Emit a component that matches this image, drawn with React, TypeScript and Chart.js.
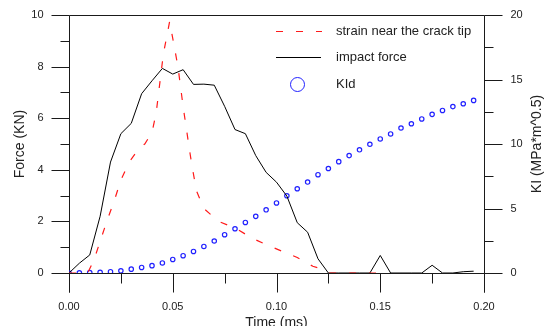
import React, { useEffect, useRef } from 'react';
import { Chart, registerables } from 'chart.js';

Chart.register(...registerables);

// ---- data ----
const forceTime = [0, 0.005, 0.01, 0.015, 0.02, 0.025, 0.03, 0.035, 0.04, 0.045, 0.05, 0.055, 0.06, 0.065, 0.07, 0.075, 0.08, 0.085, 0.09, 0.095, 0.1, 0.105, 0.11, 0.115, 0.12, 0.125, 0.13, 0.135, 0.14, 0.145, 0.15, 0.155, 0.16, 0.165, 0.17, 0.175, 0.18, 0.185, 0.19, 0.195];
const forceValue = [0, 0.38, 0.7, 2.2, 4.3, 5.4, 5.8, 6.95, 7.45, 7.93, 7.71, 7.88, 7.31, 7.32, 7.28, 6.46, 5.56, 5.4, 4.55, 3.9, 3.52, 2.98, 1.95, 1.58, 0.55, 0, 0, 0, 0, 0, 0.68, 0, 0, 0, 0, 0.3, 0, 0, 0.05, 0.07];

const strainTime = [0, 0.009, 0.012, 0.018, 0.022, 0.025, 0.029, 0.034, 0.0365, 0.04, 0.042, 0.0455, 0.0485, 0.0525, 0.055, 0.0583, 0.0596, 0.0615, 0.065, 0.072, 0.08, 0.088, 0.095, 0.1025, 0.11, 0.1175, 0.12, 0.125, 0.15];
const strainValue = [0, 0, 0.5, 1.95, 2.85, 3.6, 4.3, 4.85, 5.0, 5.45, 6.2, 8.5, 9.75, 8.0, 6.45, 4.65, 4.0, 3.17, 2.5, 2.0, 1.75, 1.36, 1.1, 0.85, 0.6, 0.26, 0.2, 0, 0];

const kidTime = [0, 0.005, 0.01, 0.015, 0.02, 0.025, 0.03, 0.035, 0.04, 0.045, 0.05, 0.055, 0.06, 0.065, 0.07, 0.075, 0.08, 0.085, 0.09, 0.095, 0.1, 0.105, 0.11, 0.115, 0.12, 0.125, 0.13, 0.135, 0.14, 0.145, 0.15, 0.155, 0.16, 0.165, 0.17, 0.175, 0.18, 0.185, 0.19, 0.195];
const kidValue = [0, 0.02, 0.03, 0.05, 0.1, 0.17, 0.3, 0.43, 0.57, 0.78, 1.05, 1.34, 1.67, 2.06, 2.48, 2.97, 3.43, 3.92, 4.39, 4.9, 5.43, 5.99, 6.53, 7.05, 7.62, 8.1, 8.63, 9.1, 9.55, 9.98, 10.39, 10.78, 11.24, 11.57, 11.94, 12.3, 12.6, 12.9, 13.12, 13.38];

const xMajorTicks = [0, 0.05, 0.1, 0.15, 0.2];
const xTickLabels = ['0.00', '0.05', '0.10', '0.15', '0.20'];
const xMinorTicks = [0.025, 0.075, 0.125, 0.175];
const yMajorTicks = [0, 2, 4, 6, 8, 10];
const yMinorTicks = [1, 3, 5, 7, 9];
const y2MajorTicks = [0, 5, 10, 15, 20];
const y2MinorTicks = [2.5, 7.5, 12.5, 17.5];

const legendLabels = ['strain near the crack tip', 'impact force', 'KId'];
const xTitle = 'Time (ms)';
const yTitle = 'Force (KN)';
const y2Title = 'KI (MPa*m^0.5)';

const FONT = '"Liberation Sans", Arial, sans-serif';
const AXIS_COLOR = '#1a1a1a';
const TEXT_COLOR = '#222';
const RED = '#ff1a1a';
const BLUE = '#2020ff';

const toXY = (xs: number[], ys: number[]) => xs.map((x, i) => ({ x, y: ys[i] }));

const axesPlugin = {
  id: 'customAxes',
  beforeDatasetsDraw(chart: any) {
    const { ctx, chartArea: a, scales } = chart;
    const sx = scales.x, sy = scales.y, sy2 = scales.y2;
    const L = Math.round(a.left) + 0.5;
    const R = Math.round(a.right) + 0.5;
    const T = Math.round(a.top) + 0.5;
    const B = Math.round(a.bottom) + 0.5;
    const major = 18, minor = 9, down = 19;
    ctx.save();
    ctx.strokeStyle = AXIS_COLOR;
    ctx.lineWidth = 1;
    ctx.setLineDash([]);
    ctx.beginPath();
    ctx.moveTo(L, T); ctx.lineTo(R, T);
    ctx.moveTo(L, B); ctx.lineTo(R, B);
    ctx.moveTo(L, T); ctx.lineTo(L, B + down);
    ctx.moveTo(R, T); ctx.lineTo(R, B + down);
    yMajorTicks.forEach((v) => { const p = Math.round(sy.getPixelForValue(v)) + 0.5; ctx.moveTo(L - major, p); ctx.lineTo(L, p); });
    yMinorTicks.forEach((v) => { const p = Math.round(sy.getPixelForValue(v)) + 0.5; ctx.moveTo(L - minor, p); ctx.lineTo(L, p); });
    y2MajorTicks.forEach((v) => { const p = Math.round(sy2.getPixelForValue(v)) + 0.5; ctx.moveTo(R, p); ctx.lineTo(R + major, p); });
    y2MinorTicks.forEach((v) => { const p = Math.round(sy2.getPixelForValue(v)) + 0.5; ctx.moveTo(R, p); ctx.lineTo(R + minor, p); });
    xMajorTicks.forEach((v) => { const p = Math.round(sx.getPixelForValue(v)) + 0.5; ctx.moveTo(p, B); ctx.lineTo(p, B + down); });
    xMinorTicks.forEach((v) => { const p = Math.round(sx.getPixelForValue(v)) + 0.5; ctx.moveTo(p, B); ctx.lineTo(p, B + 10); });
    ctx.stroke();

    ctx.fillStyle = TEXT_COLOR;
    ctx.font = `11px ${FONT}`;
    ctx.textBaseline = 'middle';
    ctx.textAlign = 'right';
    yMajorTicks.forEach((v) => ctx.fillText(String(v), L - 26, sy.getPixelForValue(v)));
    ctx.textAlign = 'left';
    y2MajorTicks.forEach((v) => ctx.fillText(String(v), R + 26, sy2.getPixelForValue(v)));
    ctx.textAlign = 'center';
    xMajorTicks.forEach((v, i) => ctx.fillText(xTickLabels[i], sx.getPixelForValue(v), 307));

    ctx.font = `14px ${FONT}`;
    ctx.fillText(xTitle, (a.left + a.right) / 2, 323);
    const midY = (a.top + a.bottom) / 2;
    ctx.save();
    ctx.translate(20, midY);
    ctx.rotate(-Math.PI / 2);
    ctx.fillText(yTitle, 0, 0);
    ctx.restore();
    ctx.save();
    ctx.translate(537, midY);
    ctx.rotate(-Math.PI / 2);
    ctx.fillText(y2Title, 0, 0);
    ctx.restore();
    ctx.restore();
  },
  afterDatasetsDraw(chart: any) {
    const { ctx } = chart;
    ctx.save();
    ctx.lineWidth = 1.2;
    ctx.strokeStyle = RED;
    ctx.setLineDash([7, 13]);
    ctx.lineDashOffset = 0;
    ctx.beginPath();
    ctx.moveTo(276, 31.5); ctx.lineTo(322, 31.5);
    ctx.stroke();
    ctx.setLineDash([]);
    ctx.lineWidth = 1;
    ctx.strokeStyle = '#000';
    ctx.beginPath();
    ctx.moveTo(276, 57.5); ctx.lineTo(321, 57.5);
    ctx.stroke();
    ctx.strokeStyle = BLUE;
    ctx.beginPath();
    ctx.arc(297.5, 84.5, 7, 0, Math.PI * 2);
    ctx.stroke();
    ctx.fillStyle = TEXT_COLOR;
    ctx.font = `13px ${FONT}`;
    ctx.textAlign = 'left';
    ctx.textBaseline = 'middle';
    ctx.fillText(legendLabels[0], 336, 31);
    ctx.fillText(legendLabels[1], 336, 57);
    ctx.fillText(legendLabels[2], 336, 84);
    ctx.restore();
  },
};

export default function App() {
  const canvasRef = useRef<HTMLCanvasElement | null>(null);

  useEffect(() => {
    if (!canvasRef.current) return;
    const chart = new Chart(canvasRef.current, {
      type: 'line',
      data: {
        datasets: [
          {
            label: legendLabels[0],
            data: toXY(strainTime, strainValue),
            borderColor: RED,
            borderWidth: 1.2,
            borderDash: [7, 13],
            pointRadius: 0,
            tension: 0,
            fill: false,
            yAxisID: 'y',
          },
          {
            label: legendLabels[1],
            data: toXY(forceTime, forceValue),
            borderColor: '#000000',
            borderWidth: 1,
            pointRadius: 0,
            tension: 0,
            fill: false,
            yAxisID: 'y',
          },
          {
            label: legendLabels[2],
            data: toXY(kidTime, kidValue),
            showLine: false,
            borderColor: BLUE,
            backgroundColor: 'transparent',
            pointBorderColor: BLUE,
            pointBackgroundColor: 'transparent',
            pointRadius: 2.2,
            pointBorderWidth: 1.2,
            yAxisID: 'y2',
          },
        ],
      },
      options: {
        responsive: false,
        animation: false,
        devicePixelRatio: 1,
        layout: { padding: { left: 69, right: 60, top: 15, bottom: 53 } },
        plugins: { legend: { display: false }, tooltip: { enabled: false } },
        scales: {
          x: { type: 'linear', min: 0, max: 0.2, display: false },
          y: { type: 'linear', min: 0, max: 10, display: false },
          y2: { type: 'linear', min: 0, max: 20, display: false, position: 'right' },
        },
      },
      plugins: [axesPlugin],
    });
    return () => chart.destroy();
  }, []);

  return (
    <div style={{ position: 'fixed', left: 0, top: 0, width: 544, height: 326, background: '#fff' }}>
      <canvas ref={canvasRef} width={544} height={326} style={{ display: 'block' }} />
    </div>
  );
}
